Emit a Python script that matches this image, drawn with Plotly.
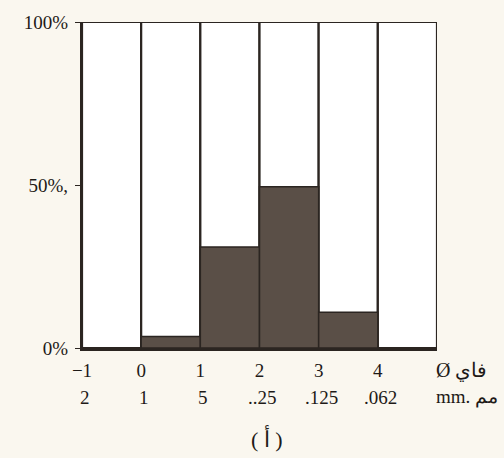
import plotly.graph_objects as go

# Data
phi_bins = [-1, 0, 1, 2, 3, 4]          # left edge (phi) of each size class
phi_labels = ["−1", "0", "1", "2", "3", "4"]
mm_labels = ["2", "1", "5", "..25", ".125", ".062"]
percent = [0, 3.5, 31, 49.5, 11, 0]     # shaded percentage in each class
full = [100, 100, 100, 100, 100, 100]
y_ticks = [0, 50, 100]
y_labels = ["0%", "50%,", "100%"]

centers = [b + 0.5 for b in phi_bins]
ink = "#2b2521"
shade = "#5a4f47"
paper = "#faf7ef"
serif = "Liberation Serif, Times New Roman, serif"
tf = dict(family=serif, size=19, color="#1e1a17")

fig = go.Figure()
fig.add_trace(go.Bar(
    x=centers, y=full, width=1,
    marker=dict(color="#ffffff", line=dict(color=ink, width=2.2)),
    hoverinfo="skip", showlegend=False,
))
fig.add_trace(go.Bar(
    x=centers, y=percent, width=1,
    marker=dict(color=shade, line=dict(color=ink, width=1.5)),
    showlegend=False,
))

fig.update_layout(
    width=504, height=458,
    margin=dict(l=82, r=67, t=22, b=110),
    barmode="overlay",
    paper_bgcolor=paper, plot_bgcolor="#ffffff",
    font=tf,
    xaxis=dict(
        range=[-1, 5], tickmode="array", tickvals=phi_bins, ticktext=phi_labels,
        tickfont=tf,
        showgrid=False, zeroline=False, showline=True, linecolor=ink, linewidth=3,
        ticks="", ticklabelstandoff=3,
    ),
    yaxis=dict(
        range=[0, 100], tickmode="array", tickvals=y_ticks, ticktext=y_labels,
        tickfont=tf,
        showgrid=False, zeroline=False, showline=True, linecolor=ink, linewidth=2.2,
        ticks="outside", ticklen=5, tickcolor=ink, ticklabelstandoff=3,
    ),
)

# second row of x labels (mm)
for xv, lab in zip(phi_bins, mm_labels):
    fig.add_annotation(x=xv, y=0, xref="x", yref="paper", text=lab,
                       showarrow=False, yanchor="top", yshift=-37,
                       xshift=3, font=tf)

fig.add_annotation(x=1.0, y=0, xref="paper", yref="paper", text="Ø فاي",
                   showarrow=False, xanchor="right", yanchor="top",
                   xshift=52, yshift=-9, font=dict(family=serif, size=20))
fig.add_annotation(x=1.0, y=0, xref="paper", yref="paper", text="mm. مم",
                   showarrow=False, xanchor="right", yanchor="top",
                   xshift=63, yshift=-36, font=dict(family=serif, size=19))
fig.add_annotation(x=0.521, y=0, xref="paper", yref="paper", text="( أ )",
                   showarrow=False, xanchor="center", yanchor="top",
                   yshift=-74, font=dict(family=serif, size=22))

fig.write_html("out.html")
